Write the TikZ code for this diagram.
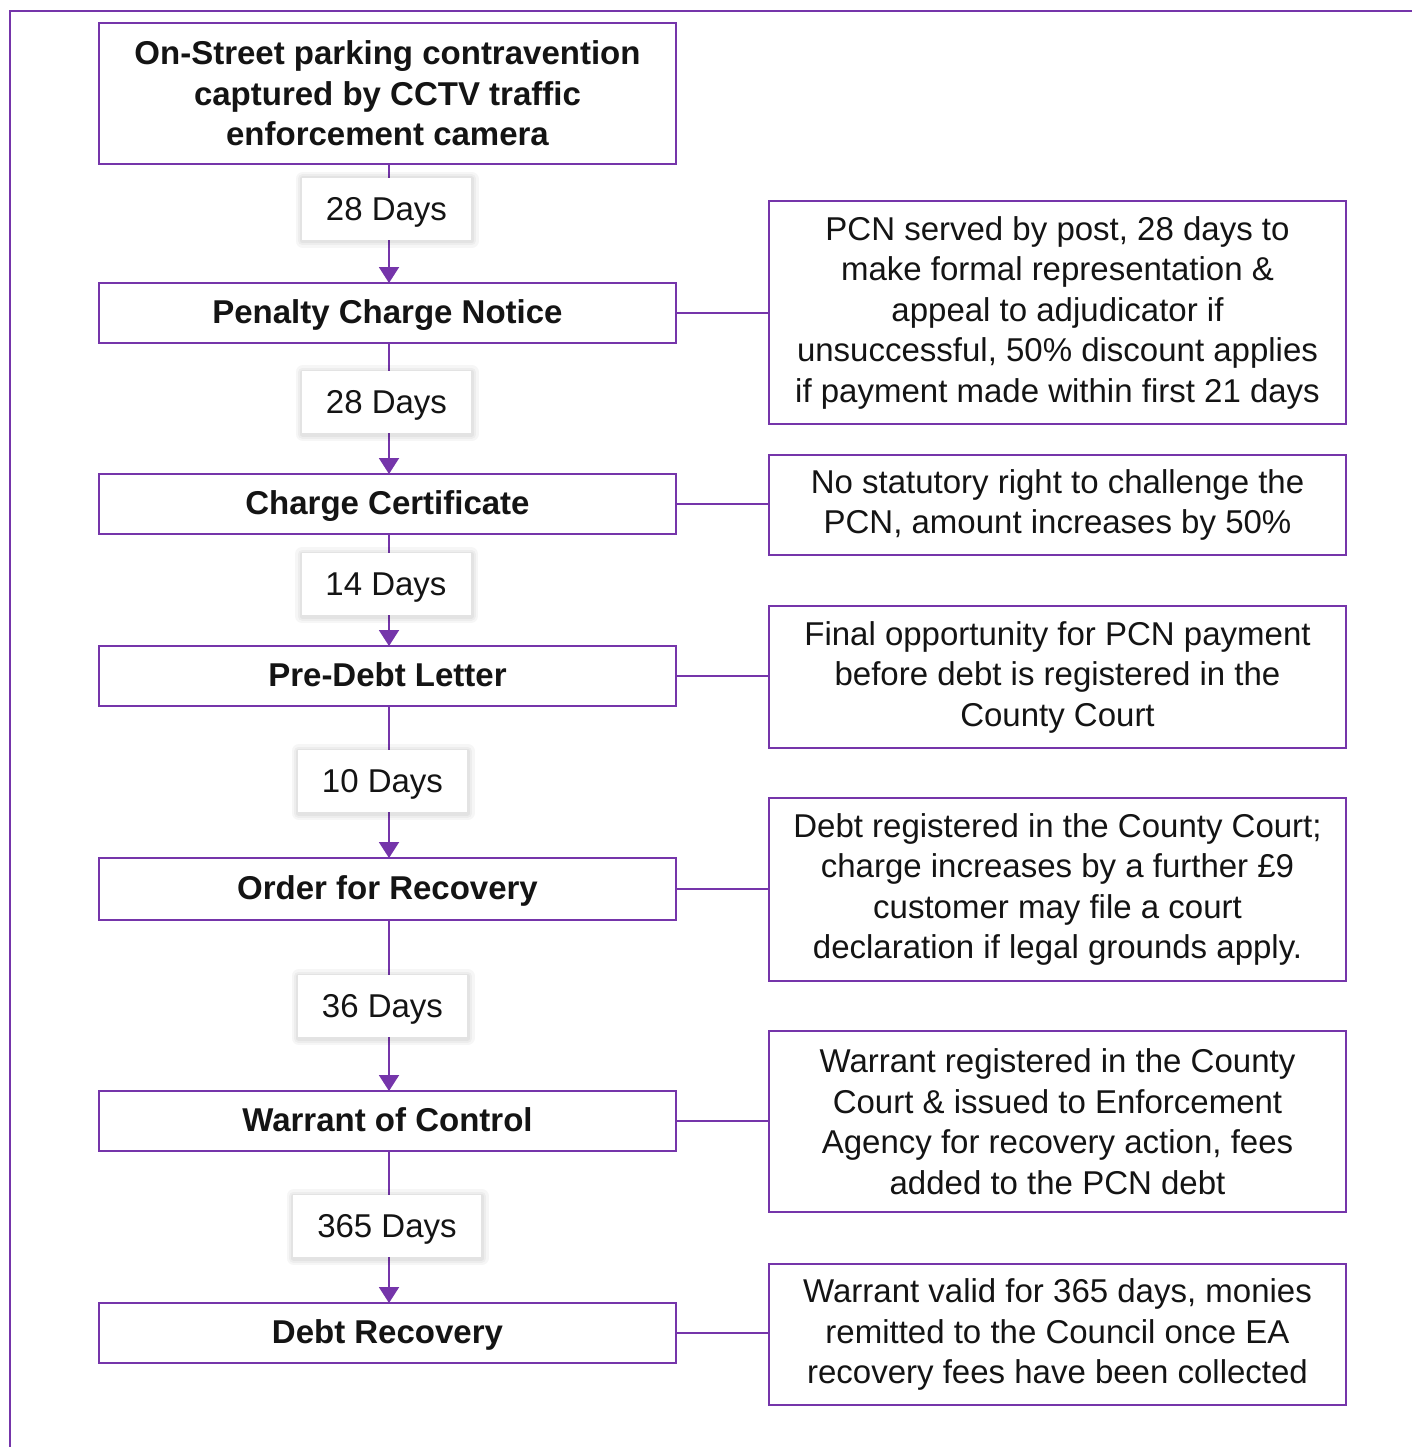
\documentclass[tikz,border=0pt]{standalone}
\usepackage{fontspec}
\setmainfont{Liberation Sans}
\usetikzlibrary{arrows.meta}
\definecolor{flowpurple}{HTML}{7535AA}
\definecolor{inktext}{HTML}{141414}
\begin{document}
\begin{tikzpicture}[x=1pt,y=-1pt,
  every node/.style={inner sep=0pt, outer sep=0pt, text=inktext},
  stage/.style={draw=flowpurple, line width=1.6pt, fill=white,
    minimum width=577pt, minimum height=60pt, text depth=2pt,
    font=\fontsize{33}{40.5}\selectfont\bfseries, align=center},
  headstage/.style={draw=flowpurple, line width=1.6pt, fill=white,
    minimum width=577pt, minimum height=141pt,
    font=\fontsize{33}{40.5}\selectfont\bfseries, align=center},
  note/.style={draw=flowpurple, line width=1.6pt, fill=white,
    minimum width=577pt,
    font=\fontsize{33}{40.5}\selectfont, align=center},
  % one band of a soft shadow round a box
  softband/.style 2 args={preaction={draw=black, draw opacity=#1,
    line width=#2, line join=round,
    transform canvas={xshift=0.5pt, yshift=-1pt}}},
  gap/.style={fill=white, minimum height=62pt, minimum width=169pt,
    text depth=0pt, font=\fontsize{33}{40.5}\selectfont,
    softband={0.035}{14pt}, softband={0.035}{9pt}, softband={0.04}{5pt}},
  flow/.style={draw=flowpurple, line width=2pt,
    -{Triangle[width=20pt,length=16pt]}},
  link/.style={draw=flowpurple, line width=1.6pt}
]
\useasboundingbox (0,0) rectangle (1412,1447);
\clip (0,0) rectangle (1412,1447);
\fill[white] (0,0) rectangle (1412,1447);
% outer frame, open on the right and at the bottom
\draw[flowpurple, line width=2pt] (10,11) rectangle (1460,1500);

% main stages
\node[headstage] (s0) at (387.5,93.5)
  {On-Street parking contravention\\captured by CCTV traffic\\enforcement camera};
\node[stage] (s1) at (387.5,313) {Penalty Charge Notice};
\node[stage] (s2) at (387.5,504) {Charge Certificate};
\node[stage] (s3) at (387.5,676) {Pre-Debt Letter};
\node[stage, minimum height=62pt] (s4) at (387.5,889) {Order for Recovery};
\node[stage] (s5) at (387.5,1121) {Warrant of Control};
\node[stage] (s6) at (387.5,1333) {Debt Recovery};

% explanatory notes
\node[note, minimum height=223pt] (n1) at (1057.5,312.5)
  {PCN served by post, 28 days to\\make formal representation \&\\appeal to adjudicator if\\unsuccessful, 50\% discount applies\\if payment made within first 21 days};
\node[note, minimum height=100pt] (n2) at (1057.5,505)
  {No statutory right to challenge the\\PCN, amount increases by 50\%};
\node[note, minimum height=142pt] (n3) at (1057.5,677)
  {Final opportunity for PCN payment\\before debt is registered in the\\County Court};
\node[note, minimum height=183pt] (n4) at (1057.5,889.5)
  {Debt registered in the County Court;\\charge increases by a further £9\\customer may file a court\\declaration if legal grounds apply.};
\node[note, minimum height=181pt] (n5) at (1057.5,1121.5)
  {Warrant registered in the County\\Court \& issued to Enforcement\\Agency for recovery action, fees\\added to the PCN debt};
\node[note, minimum height=141pt] (n6) at (1057.5,1334.5)
  {Warrant valid for 365 days, monies\\remitted to the Council once EA\\recovery fees have been collected};

% flow between stages
\draw[flow] ([xshift=1.5pt]s0.south) -- ([xshift=1.5pt]s1.north);
\draw[flow] ([xshift=1.5pt]s1.south) -- ([xshift=1.5pt]s2.north);
\draw[flow] ([xshift=1.5pt]s2.south) -- ([xshift=1.5pt]s3.north);
\draw[flow] ([xshift=1.5pt]s3.south) -- ([xshift=1.5pt]s4.north);
\draw[flow] ([xshift=1.5pt]s4.south) -- ([xshift=1.5pt]s5.north);
\draw[flow] ([xshift=1.5pt]s5.south) -- ([xshift=1.5pt]s6.north);

% links to the notes
\draw[link] (s1.east) -- (s1.east -| n1.west);
\draw[link] (s2.east) -- (s2.east -| n2.west);
\draw[link] (s3.east) -- (s3.east -| n3.west);
\draw[link] (s4.east) -- (s4.east -| n4.west);
\draw[link] (s5.east) -- (s5.east -| n5.west);
\draw[link] (s6.east) -- (s6.east -| n6.west);

% time intervals
\node[gap] (g1) at (386.5,209) {28 Days};
\node[gap] (g2) at (386.5,402) {28 Days};
\node[gap] (g3) at (386,584) {14 Days};
\node[gap] (g4) at (382.5,781) {10 Days};
\node[gap] (g5) at (382.5,1006) {36 Days};
\node[gap, minimum width=188pt] (g6) at (387,1226) {365 Days};
\end{tikzpicture}
\end{document}
